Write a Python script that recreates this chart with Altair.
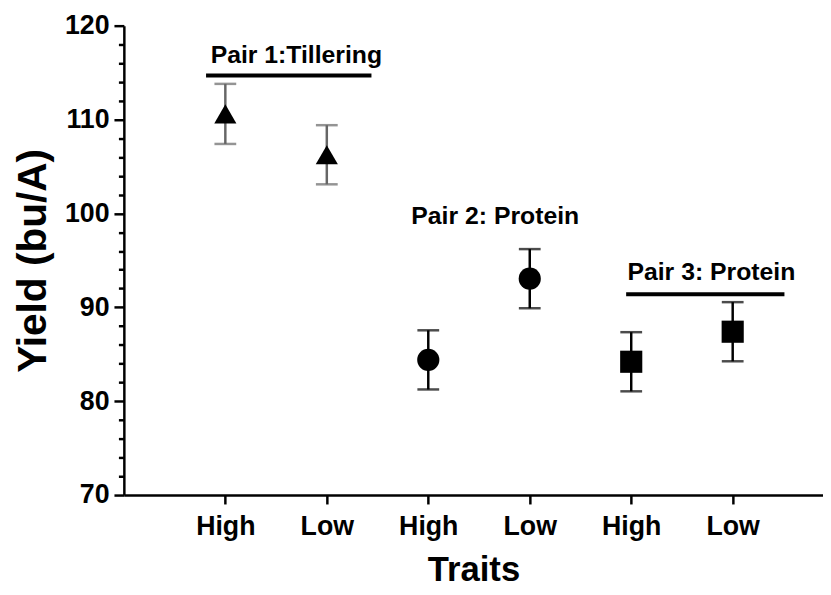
import altair as alt
import pandas as pd

# data
positions = [1, 2, 3, 4, 5, 6]
traits = ["High", "Low", "High", "Low", "High", "Low"]
pairs = ["Pair 1", "Pair 1", "Pair 2", "Pair 2", "Pair 3", "Pair 3"]
means = [110.6, 106.25, 84.4, 93.05, 84.2, 87.4]
errs = [3.2, 3.15, 3.15, 3.15, 3.15, 3.15]
shapes = ["triangle-up", "triangle-up", "circle", "circle", "square", "square"]
bar_colors = ["#666666", "#666666", "#000000", "#000000", "#000000", "#000000"]

label_text = ["Pair 1:Tillering", "Pair 2: Protein", "Pair 3: Protein"]
label_x = [1.70, 3.66, 5.79]
label_y = [116.9, 99.7, 93.8]

line_x = [0.81, 4.95]
line_x2 = [2.44, 6.51]
line_y = [114.7, 91.4]

major_y = [70, 80, 90, 100, 110, 120]
minor_y = [v for v in range(70, 121, 2) if v % 10 != 0]

df = pd.DataFrame({
    "pos": positions, "trait": traits, "pair": pairs, "mean": means,
    "lo": [m - e for m, e in zip(means, errs)],
    "hi": [m + e for m, e in zip(means, errs)],
    "shape": shapes, "bcolor": bar_colors,
})
labels = pd.DataFrame({"text": label_text, "x": label_x, "y": label_y})
lines = pd.DataFrame({"x": line_x, "x2": line_x2, "y": line_y})
minor = pd.DataFrame({"y": [minor_y[0]]})

FONT = "Liberation Sans"
xscale = alt.Scale(domain=[0, 6.89], nice=False, zero=False)
yscale = alt.Scale(domain=[70, 120], nice=False, zero=False)

label_expr = "datum.value % 2 == 1 ? 'High' : 'Low'"

xaxis = alt.Axis(values=positions, labelExpr=label_expr, title="Traits",
                 labelFontSize=27, labelFontWeight="bold", labelFont=FONT,
                 labelColor="black", titleFontSize=35, titleFontWeight="bold",
                 titleFont=FONT, titleColor="black", tickSize=9, tickWidth=2.5,
                 tickColor="black", domainColor="black", domainWidth=2.5,
                 grid=False, labelPadding=10, titlePadding=13)
yaxis = alt.Axis(values=major_y, title="Yield (bu/A)", labelFontSize=27,
                 labelFontWeight="bold", labelFont=FONT, labelColor="black",
                 titleFontSize=41, titleFontWeight="bold", titleFont=FONT,
                 titleColor="black", tickSize=10, tickWidth=2.5, tickColor="black",
                 domainColor="black", domainWidth=2.5, grid=False,
                 labelPadding=5, titlePadding=10)

base = alt.Chart(df)

rules = base.mark_rule(strokeWidth=2.5).encode(
    x=alt.X("pos:Q", scale=xscale, axis=xaxis),
    y=alt.Y("lo:Q", scale=yscale, axis=yaxis),
    y2="hi:Q",
    color=alt.Color("bcolor:N", scale=None),
)
caps_lo = base.mark_tick(orient="horizontal", size=22, thickness=2.5).encode(
    x=alt.X("pos:Q", scale=xscale),
    y=alt.Y("lo:Q", scale=yscale, axis=None),
    color=alt.Color("bcolor:N", scale=None),
)
caps_hi = base.mark_tick(orient="horizontal", size=22, thickness=2.5).encode(
    x=alt.X("pos:Q", scale=xscale),
    y=alt.Y("hi:Q", scale=yscale, axis=None),
    color=alt.Color("bcolor:N", scale=None),
)
points = base.mark_point(filled=True, opacity=1, color="black", size=500).encode(
    x=alt.X("pos:Q", scale=xscale),
    y=alt.Y("mean:Q", scale=yscale, axis=None),
    shape=alt.Shape("shape:N", scale=None),
)
texts = alt.Chart(labels).mark_text(font=FONT, fontSize=25, fontWeight="bold",
                                    color="black", align="center",
                                    baseline="middle").encode(
    x=alt.X("x:Q", scale=xscale),
    y=alt.Y("y:Q", scale=yscale, axis=None),
    text="text:N",
)
hlines = alt.Chart(lines).mark_rule(strokeWidth=4, color="black").encode(
    x=alt.X("x:Q", scale=xscale),
    x2="x2:Q",
    y=alt.Y("y:Q", scale=yscale, axis=None),
)
minor_axis = alt.Chart(minor).mark_point(opacity=0).encode(
    y=alt.Y("y:Q", scale=yscale,
            axis=alt.Axis(values=minor_y, orient="left", labels=False,
                          title=None, tickSize=5.5, tickWidth=2.5,
                          tickColor="black", domain=False, grid=False)),
)

chart = alt.layer(rules, caps_lo, caps_hi, points, texts, hlines, minor_axis).resolve_axis(
    y="independent"
).properties(
    width=706, height=474,
    autosize=alt.AutoSizeParams(type="none"),
    padding={"left": 117, "top": 15, "right": 0, "bottom": 90},
).configure_view(stroke=None)

chart.save("out.html", embed_options={"renderer": "svg", "actions": False})
